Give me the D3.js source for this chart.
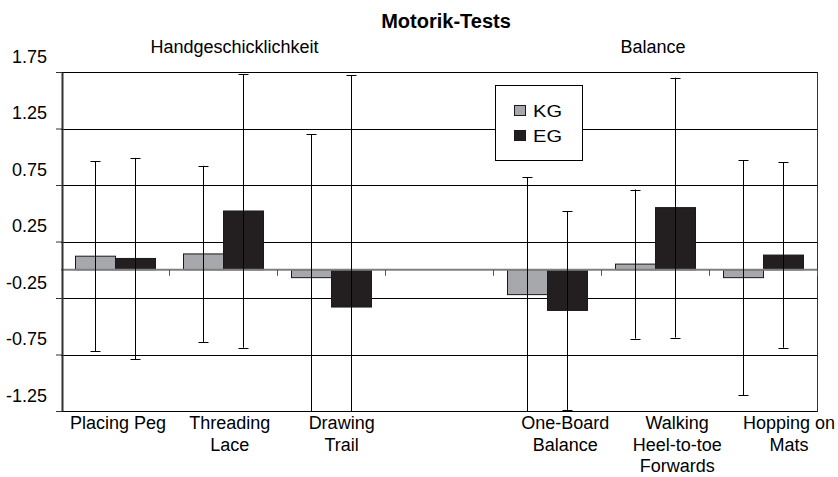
<!DOCTYPE html>
<html>
<head>
<meta charset="utf-8">
<script src="https://cdn.jsdelivr.net/npm/d3@7"></script>
<style>
  html, body { margin: 0; padding: 0; background: #fff; }
  svg { display: block; font-family: "Liberation Sans", Arial, sans-serif; }
</style>
</head>
<body>
<svg id="chart" width="838" height="477"></svg>
<script>
// ---- data ----
const categories = ["Placing Peg", "Threading Lace", "Drawing Trail", "", "One-Board Balance", "Walking Heel-to-toe Forwards", "Hopping on Mats"];
const categoryLines = [["Placing Peg"], ["Threading", "Lace"], ["Drawing", "Trail"], [], ["One-Board", "Balance"], ["Walking", "Heel-to-toe", "Forwards"], ["Hopping on", "Mats"]];
const seriesNames = ["KG", "EG"];
const kgValues = [0.12, 0.14, -0.07, null, -0.22, 0.05, -0.07];
const egValues = [0.10, 0.52, -0.33, null, -0.36, 0.55, 0.13];
const kgErrors = [0.84, 0.78, 1.27, null, 1.04, 0.66, 1.04];
const egErrors = [0.89, 1.21, 2.05, null, 0.88, 1.15, 0.82];
const yTicks = [-1.25, -0.75, -0.25, 0.25, 0.75, 1.25, 1.75];
const yTickLabels = ["-1.25", "-0.75", "-0.25", "0.25", "0.75", "1.25", "1.75"];
const title = "Motorik-Tests";
const groupTitles = [{ text: "Handgeschicklichkeit", from: 0, to: 2 }, { text: "Balance", from: 4, to: 6 }];

// ---- layout ----
const svg = d3.select("#chart");
const plot = { left: 61, right: 817, top: 72, bottom: 411 };
const colors = { KG: "#a7a8ab", EG: "#231f20" };

const x = d3.scaleBand().domain(d3.range(categories.length)).range([plot.left, plot.right]).paddingInner(0).paddingOuter(0);
const xLabel = d3.scaleBand().domain(d3.range(categories.length)).range([62, 845]);
const inner = d3.scaleBand().domain(seriesNames).range([0, x.bandwidth()]).paddingInner(0).paddingOuter(0.35);
const y = d3.scaleLinear().domain([-1.25, 1.75]).range([plot.bottom, plot.top]);

const rows = categories.map((c, i) => ({
  i, c,
  vals: [
    { s: "KG", v: kgValues[i], e: kgErrors[i] },
    { s: "EG", v: egValues[i], e: egErrors[i] }
  ]
}));

// clip
svg.append("defs").append("clipPath").attr("id", "plotclip")
  .append("rect").attr("x", plot.left).attr("y", plot.top - 1)
  .attr("width", plot.right - plot.left).attr("height", plot.bottom - plot.top + 1);

// gridlines
svg.append("g").selectAll("line").data(yTicks).join("line")
  .attr("x1", plot.left).attr("x2", plot.right)
  .attr("y1", d => Math.round(y(d)) + 0.5).attr("y2", d => Math.round(y(d)) + 0.5)
  .attr("stroke", "#000").attr("stroke-width", 1);

// right border
svg.append("line")
  .attr("x1", plot.right + 0.5).attr("x2", plot.right + 0.5)
  .attr("y1", plot.top).attr("y2", plot.bottom + 1)
  .attr("stroke", "#333").attr("stroke-width", 1);

// bars
const bars = svg.append("g");
rows.forEach(r => {
  r.vals.forEach(d => {
    if (d.v == null) return;
    const x0 = x(r.i) + inner(d.s);
    bars.append("rect")
      .attr("x", Math.round(x0) + 0.5)
      .attr("y", Math.min(y(d.v), y(0)))
      .attr("width", inner.bandwidth())
      .attr("height", Math.abs(y(d.v) - y(0)))
      .attr("fill", colors[d.s])
      .attr("stroke", "#1a1a1a").attr("stroke-width", 1);
  });
});

// zero (category) axis
const zeroY = y(0);
svg.append("line").attr("x1", plot.left).attr("x2", plot.right)
  .attr("y1", zeroY).attr("y2", zeroY)
  .attr("stroke", "#7f7f7f").attr("stroke-width", 2);
svg.append("g").selectAll("line").data(d3.range(1, categories.length + 1)).join("line")
  .attr("x1", d => (d < categories.length ? x(d) : plot.right) + 0.5)
  .attr("x2", d => (d < categories.length ? x(d) : plot.right) + 0.5)
  .attr("y1", zeroY).attr("y2", zeroY + 6)
  .attr("stroke", "#555").attr("stroke-width", 1);

// error bars
const err = svg.append("g").attr("clip-path", "url(#plotclip)");
rows.forEach(r => {
  r.vals.forEach(d => {
    if (d.v == null) return;
    const cx = Math.round(x(r.i) + inner(d.s) + inner.bandwidth() / 2) + 0.5;
    const yt = y(d.v + d.e), yb = y(d.v - d.e);
    err.append("line").attr("x1", cx).attr("x2", cx).attr("y1", yt).attr("y2", yb)
      .attr("stroke", "#000").attr("stroke-width", 1);
    [yt, yb].forEach(yy => {
      err.append("line").attr("x1", cx - 5).attr("x2", cx + 5)
        .attr("y1", Math.round(yy) + 0.5).attr("y2", Math.round(yy) + 0.5)
        .attr("stroke", "#000").attr("stroke-width", 1);
    });
  });
});

// left value axis
const yAxis = d3.axisLeft(y).tickValues(yTicks).tickFormat((d, i) => yTickLabels[i]).tickSize(6).tickSizeOuter(0);
const ya = svg.append("g").attr("transform", `translate(${plot.left + 1},0)`).call(yAxis);
ya.select(".domain").attr("stroke", "#333").attr("stroke-width", 2);
ya.selectAll(".tick line").attr("stroke", "#333").attr("stroke-width", 1);
ya.selectAll(".tick text")
  .attr("x", -15).attr("dy", "-0.55em")
  .attr("font-size", 18).attr("fill", "#000")
  .attr("font-family", "'Liberation Sans', Arial, sans-serif");

// category labels
const catG = svg.append("g");
categoryLines.forEach((lines, i) => {
  lines.forEach((ln, k) => {
    catG.append("text")
      .attr("x", xLabel(i) + xLabel.bandwidth() / 2)
      .attr("y", 429 + k * 21.5)
      .attr("text-anchor", "middle")
      .attr("font-size", 18).attr("fill", "#000")
      .text(ln);
  });
});

// titles
svg.append("text").attr("x", 446).attr("y", 28).attr("text-anchor", "middle")
  .attr("font-size", 20).attr("font-weight", "bold").text(title);
const groupCenters = [234.5, 653];
groupTitles.forEach((g, k) => {
  svg.append("text").attr("x", groupCenters[k]).attr("y", 53)
    .attr("text-anchor", "middle").attr("font-size", 18).text(g.text);
});

// legend
const lg = svg.append("g");
lg.append("rect").attr("x", 495.5).attr("y", 85.5).attr("width", 87).attr("height", 75)
  .attr("fill", "#fff").attr("stroke", "#000").attr("stroke-width", 1);
seriesNames.forEach((s, k) => {
  lg.append("rect").attr("x", 514.5).attr("y", 105.5 + k * 25).attr("width", 11).attr("height", 10)
    .attr("fill", colors[s]).attr("stroke", "#1a1a1a").attr("stroke-width", 1);
  lg.append("text").attr("x", 533).attr("y", 116.5 + k * 25)
    .attr("font-size", 16).attr("textLength", 29).attr("lengthAdjust", "spacingAndGlyphs")
    .text(s);
});
</script>
</body>
</html>
